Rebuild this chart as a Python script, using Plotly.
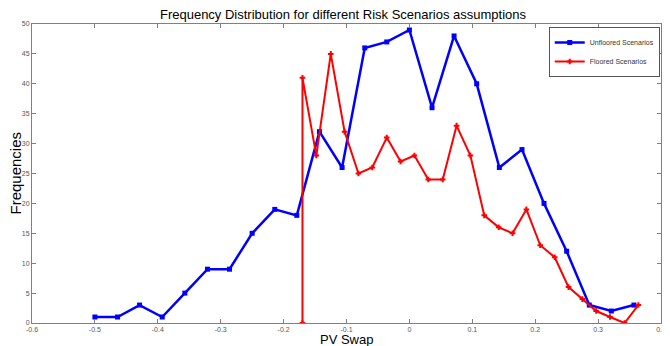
import plotly.graph_objects as go

# Unfloored scenarios (blue)
unfloored_x = [-0.500, -0.464, -0.429, -0.393, -0.357, -0.321, -0.286, -0.250, -0.214,
               -0.179, -0.143, -0.107, -0.071, -0.036, 0.000, 0.036, 0.071, 0.107,
               0.143, 0.179, 0.214, 0.250, 0.286, 0.321, 0.357]
unfloored_y = [1, 1, 3, 1, 5, 9, 9, 15, 19, 18, 32, 26, 46, 47, 49, 36, 48, 40,
               26, 29, 20, 12, 3, 2, 3]

# Floored scenarios (red)
floored_x = [-0.170, -0.170, -0.148, -0.125, -0.103, -0.081, -0.059, -0.036, -0.014,
             0.008, 0.030, 0.053, 0.075, 0.097, 0.119, 0.142, 0.164, 0.186, 0.208,
             0.231, 0.253, 0.275, 0.297, 0.319, 0.342, 0.364]
floored_y = [0, 41, 28, 45, 32, 25, 26, 31, 27, 28, 24, 24, 33, 28, 18, 16, 15, 19,
             13, 11, 6, 4, 2, 1, 0, 3]

x_ticks = [-0.6, -0.5, -0.4, -0.3, -0.2, -0.1, 0, 0.1, 0.2, 0.3, 0.4]
x_tick_labels = ["-0.6", "-0.5", "-0.4", "-0.3", "-0.2", "-0.1", "0", "0.1", "0.2", "0.3", "0.4"]
y_ticks = [0, 5, 10, 15, 20, 25, 30, 35, 40, 45, 50]

fig = go.Figure()
fig.add_trace(go.Scatter(
    x=unfloored_x, y=unfloored_y, mode="lines+markers", name="Unfloored Scenarios",
    line=dict(color="#0000ff", width=2.5),
    marker=dict(symbol="square", size=5, color="#0000ff"),
))
fig.add_trace(go.Scatter(
    x=floored_x, y=floored_y, mode="lines+markers", name="Floored Scenarios",
    line=dict(color="#ff0000", width=2),
    marker=dict(symbol="cross-thin", size=4, color="#ff0000", line=dict(color="#ff0000", width=2)),
))

axis_common = dict(
    showline=True, linecolor="#808080", linewidth=1, mirror="ticks",
    ticks="inside", ticklen=4, tickcolor="#808080",
    showgrid=False, zeroline=False,
    tickfont=dict(family="Liberation Sans, Arial", size=7, color="#555555"),
)

# page body has an 8px default margin, so the margins compensate for that offset
fig.update_layout(
    width=670, height=346,
    margin=dict(l=24, r=13, t=16, b=31),
    paper_bgcolor="white", plot_bgcolor="white",
    font=dict(family="Liberation Sans, Arial", color="#000000"),
    title=dict(text="Frequency Distribution for different Risk Scenarios assumptions",
               x=0.5, xanchor="center", y=0.995, yref="container", yanchor="top",
               pad=dict(t=0, b=0), font=dict(size=13, color="#000000")),
    xaxis=dict(range=[-0.6, 0.4], tickvals=x_ticks, ticktext=x_tick_labels, **axis_common),
    yaxis=dict(range=[0, 50], tickvals=y_ticks, **axis_common),
    legend=dict(x=0.998, y=0.99, xanchor="right", yanchor="top",
                bgcolor="white", bordercolor="#555555", borderwidth=1,
                font=dict(size=7, color="#333333"), itemwidth=30,
                tracegroupgap=0),
    showlegend=True,
    annotations=[
        dict(text="PV Swap", xref="paper", yref="paper", x=0.5, y=0,
             xanchor="center", yanchor="middle", yshift=-16, showarrow=False,
             font=dict(size=13, color="#000000")),
        dict(text="Frequencies", xref="paper", yref="paper", x=0, y=0.5,
             xanchor="center", yanchor="middle", xshift=-17, textangle=-90,
             showarrow=False, font=dict(size=15, color="#000000")),
    ],
)

fig.write_html("out.html")
